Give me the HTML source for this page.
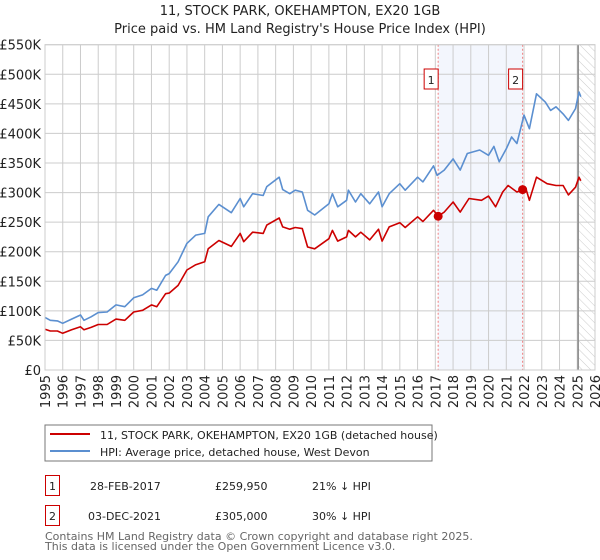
<!DOCTYPE html>
<html><head><meta charset="utf-8"><style>
body{margin:0;background:#fff;font-family:"Liberation Sans","DejaVu Sans",sans-serif;}
svg{display:block}
</style></head><body>
<svg id="c" width="600" height="560" xmlns="http://www.w3.org/2000/svg" font-family="DejaVu Sans, Liberation Sans, sans-serif">
<defs><pattern id="hatch" width="6" height="6" patternUnits="userSpaceOnUse" patternTransform="rotate(-45)"><line x1="0" y1="0" x2="0" y2="6" stroke="#ccc" stroke-width="1"/></pattern></defs>
<text x="300" y="15" text-anchor="middle" font-size="13" fill="#222">11, STOCK PARK, OKEHAMPTON, EX20 1GB</text>
<text x="300" y="33" text-anchor="middle" font-size="13" fill="#222">Price paid vs. HM Land Registry's House Price Index (HPI)</text>
<g id="plot"></g>
<rect x="45" y="425" width="387" height="36" fill="#fff" stroke="#777"/>
<line x1="50" y1="434" x2="90" y2="434" stroke="#cc0000" stroke-width="2"/>
<text x="100" y="439" font-size="11" fill="#222">11, STOCK PARK, OKEHAMPTON, EX20 1GB (detached house)</text>
<line x1="50" y1="451" x2="90" y2="451" stroke="#5b8fd0" stroke-width="2"/>
<text x="100" y="456" font-size="11" fill="#222">HPI: Average price, detached house, West Devon</text>
<rect x="45.5" y="475.5" width="14" height="20" fill="none" stroke="#cc0000"/>
<text x="52.5" y="490" text-anchor="middle" font-size="11" fill="#222">1</text>
<text x="90" y="490" font-size="11" fill="#222">28-FEB-2017</text>
<text x="215" y="490" font-size="11" fill="#222">£259,950</text>
<text x="312" y="490" font-size="11" fill="#222">21% ↓ HPI</text>
<rect x="45.5" y="505.5" width="14" height="20" fill="none" stroke="#cc0000"/>
<text x="52.5" y="520" text-anchor="middle" font-size="11" fill="#222">2</text>
<text x="88" y="520" font-size="11" fill="#222">03-DEC-2021</text>
<text x="215" y="520" font-size="11" fill="#222">£305,000</text>
<text x="312" y="520" font-size="11" fill="#222">30% ↓ HPI</text>
<text x="45" y="540" font-size="11" fill="#666">Contains HM Land Registry data © Crown copyright and database right 2025.</text>
<text x="45" y="550" font-size="11" fill="#666">This data is licensed under the Open Government Licence v3.0.</text>
</svg>
<script>
const yTicks=[0,50,100,150,200,250,300,350,400,450,500,550];
const yTickLabels=["£0","£50K","£100K","£150K","£200K","£250K","£300K","£350K","£400K","£450K","£500K","£550K"];
const xYears=[1995,1996,1997,1998,1999,2000,2001,2002,2003,2004,2005,2006,2007,2008,2009,2010,2011,2012,2013,2014,2015,2016,2017,2018,2019,2020,2021,2022,2023,2024,2025,2026];
const hpiT=[1995,1995.3,1995.7,1996,1996.5,1997,1997.2,1997.6,1998,1998.5,1999,1999.5,2000,2000.5,2001,2001.3,2001.8,2002,2002.5,2003,2003.5,2004,2004.2,2004.8,2005.5,2006,2006.2,2006.7,2007.3,2007.5,2008.2,2008.4,2008.8,2009.1,2009.5,2009.8,2010.2,2011,2011.2,2011.5,2012,2012.1,2012.5,2012.8,2013.3,2013.8,2014,2014.4,2015,2015.3,2016,2016.3,2016.9,2017.1,2017.5,2018,2018.4,2018.8,2019.5,2020,2020.3,2020.6,2021,2021.3,2021.6,2022,2022.3,2022.7,2023.2,2023.5,2023.8,2024.2,2024.5,2024.9,2025.1,2025.2];
const hpiV=[89,84,83,79,86,93,84,90,97,98,110,107,122,127,138,135,160,163,183,214,228,231,259,280,266,290,276,298,295,310,326,305,298,304,301,270,262,281,298,276,287,304,284,298,281,301,276,298,315,304,326,318,345,329,338,357,338,366,372,363,378,352,374,394,383,431,408,467,453,439,445,433,422,442,470,462];
const ppT=[1995,1995.3,1995.7,1996,1996.5,1997,1997.2,1997.6,1998,1998.5,1999,1999.5,2000,2000.5,2001,2001.3,2001.8,2002,2002.5,2003,2003.5,2004,2004.2,2004.8,2005.5,2006,2006.2,2006.7,2007.3,2007.5,2008.2,2008.4,2008.8,2009.1,2009.5,2009.8,2010.2,2011,2011.2,2011.5,2012,2012.1,2012.5,2012.8,2013.3,2013.8,2014,2014.4,2015,2015.3,2016,2016.3,2016.9,2017.16,2017.5,2018,2018.4,2018.9,2019.6,2020,2020.4,2020.8,2021.1,2021.6,2021.92,2022.1,2022.3,2022.7,2023.3,2023.8,2024.2,2024.5,2024.9,2025.1,2025.2];
const ppV=[69,66,66,62,68,73,68,72,77,77,86,84,98,101,110,107,129,130,143,169,178,183,205,219,209,231,217,233,231,245,257,242,238,241,239,208,205,222,236,218,225,236,225,233,220,238,218,242,249,241,259,251,270,260,267,284,267,290,287,294,276,301,312,301,305,307,287,326,315,312,312,296,309,326,320];
const saleT=[2017.16,2021.92];
const saleV=[259.95,305];
const saleLabels=["1","2"];
const NS="http://www.w3.org/2000/svg";
const L=45,R=595,T=44.7,B=370;
const x=t=>L+(t-1995)/(2026-1995)*(R-L);
const y=v=>B-v/550*(B-T);
const g=document.getElementById('plot');
function mk(tag,attrs){const e=document.createElementNS(NS,tag);for(const k in attrs)e.setAttribute(k,attrs[k]);g.appendChild(e);return e;}
let e=mk('rect',{x:x(saleT[0]),y:T,width:x(saleT[1])-x(saleT[0]),height:B-T,fill:'#eef2fc',opacity:0.7});


e=mk('rect',{x:x(2025.05),y:T,width:R-x(2025.05),height:B-T,fill:'url(#hatch)'});


yTicks.forEach((v,i)=>{
  let l=mk('line',{x1:L,x2:R,y1:y(v),y2:y(v),stroke:'#ccc'});
  
  
  let t=mk('text',{x:L-4,y:y(v)+5,'text-anchor':'end','font-size':13,fill:'#222'});
  t.textContent=yTickLabels[i];
  
  
});
xYears.forEach(yr=>{
  let l=mk('line',{x1:x(yr),x2:x(yr),y1:T,y2:B,stroke:'#ccc'});
  
  
  let t=mk('text',{x:0,y:0,'text-anchor':'end','font-size':13,fill:'#222',transform:`translate(${x(yr)+5},${B+5}) rotate(-90)`});
  t.textContent=yr;
  
  
});
e=mk('line',{x1:x(2025.05),x2:x(2025.05),y1:T,y2:B,stroke:'#888','stroke-width':1.5});


saleT.forEach((t,i)=>{
  let l=mk('line',{x1:x(t),x2:x(t),y1:T,y2:B,stroke:'#f08080','stroke-dasharray':'2,2'});
  
  
  let r=mk('rect',{x:x(t)-14,y:69,width:14,height:20,fill:'#fff',stroke:'#cc0000'});
  
  
  let tx=mk('text',{x:x(t)-7,y:84,'text-anchor':'middle','font-size':11,fill:'#222'});
  tx.textContent=saleLabels[i];
});
function path(ts,vs,col,name){
  let d=ts.map((t,i)=>(i?'L':'M')+x(t).toFixed(1)+','+y(vs[i]).toFixed(1)).join('');
  let p=mk('path',{d:d,fill:'none',stroke:col,'stroke-width':1.6,'stroke-linejoin':'round'});
  
  
}
path(hpiT,hpiV,'#5b8fd0','hpi-line');
path(ppT,ppV,'#cc0000','price-paid-line');
saleT.forEach((t,i)=>{
  let c=mk('circle',{cx:x(t),cy:y(saleV[i]),r:4.5,fill:'#cc0000'});
  
  
});
e=mk('rect',{x:L,y:T,width:R-L,height:B-T,fill:'none',stroke:'#ccc'});


</script>
</body></html>
